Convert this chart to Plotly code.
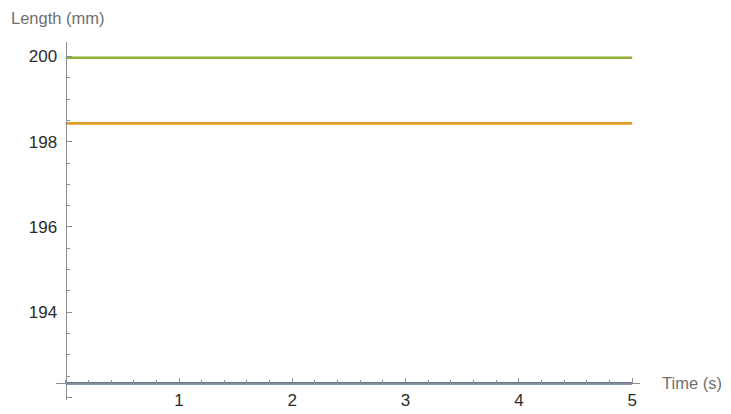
import plotly.graph_objects as go

# Time samples (s) and constant length traces (mm)
time_s = [0, 1, 2, 3, 4, 5]
length_blue = [192.33, 192.33, 192.33, 192.33, 192.33, 192.33]
length_orange = [198.43, 198.43, 198.43, 198.43, 198.43, 198.43]
length_green = [199.97, 199.97, 199.97, 199.97, 199.97, 199.97]

x_ticks = [1, 2, 3, 4, 5]
x_tick_text = ["1", "2", "3", "4", "5"]
y_ticks = [192, 194, 196, 198, 200]
y_tick_text = ["", "194", "196", "198", "200"]

W, H = 731, 414
L, R, T, B = 56, 91, 42, 14
x_range = [-0.0856, 5.069]
y_range = [191.94, 200.34]

def frac(v, rng):
    return (v - rng[0]) / (rng[1] - rng[0])

axis_grey = "#8c8c8c"
tick_font = dict(family="Liberation Sans, Arial, sans-serif", size=17, color="#2b2b2b")
label_font = dict(family="Liberation Sans, Arial, sans-serif", size=16.5, color="#6f6f6f")

fig = go.Figure()
for ys, col in [(length_blue, "#5a7398"), (length_orange, "#E19C24"), (length_green, "#8FB032")]:
    fig.add_trace(go.Scatter(x=time_s, y=ys, mode="lines",
                             line=dict(color=col, width=2.6), showlegend=False))

fig.update_layout(
    width=W, height=H,
    margin=dict(l=L, r=R, t=T, b=B, pad=0, autoexpand=False),
    paper_bgcolor="white", plot_bgcolor="white",
    xaxis=dict(
        range=x_range, showgrid=False, zeroline=False, automargin=False,
        showline=True, linecolor=axis_grey, linewidth=1.3,
        anchor="free", position=frac(192.33, y_range),
        tickmode="array", tickvals=x_ticks, ticktext=x_tick_text,
        ticks="inside", ticklen=5, tickcolor=axis_grey, tickwidth=1,
        tickfont=tick_font, ticklabelstandoff=1,
        minor=dict(dtick=0.2, tick0=0, ticks="inside", ticklen=3,
                   tickcolor=axis_grey, tickwidth=1, showgrid=False),
    ),
    yaxis=dict(
        range=y_range, showgrid=False, zeroline=False, automargin=False,
        showline=True, linecolor=axis_grey, linewidth=1.3,
        anchor="free", position=frac(0, x_range),
        tickmode="array", tickvals=y_ticks, ticktext=y_tick_text,
        ticks="inside", ticklen=5, tickcolor=axis_grey, tickwidth=1,
        tickfont=tick_font, ticklabelstandoff=5,
        minor=dict(dtick=0.5, tick0=0, ticks="inside", ticklen=3,
                   tickcolor=axis_grey, tickwidth=1, showgrid=False),
    ),
    annotations=[
        dict(text="Length (mm)", xref="paper", yref="paper",
             x=(9 - L) / (W - L - R), y=1 + (T - 18) / (H - T - B),
             xanchor="left", yanchor="middle", showarrow=False, font=label_font),
        dict(text="Time (s)", xref="paper", yref="paper",
             x=(660 - L) / (W - L - R), y=frac(192.33, y_range),
             xanchor="left", yanchor="middle", showarrow=False, font=label_font),
    ],
)

fig.write_html("out.html")
